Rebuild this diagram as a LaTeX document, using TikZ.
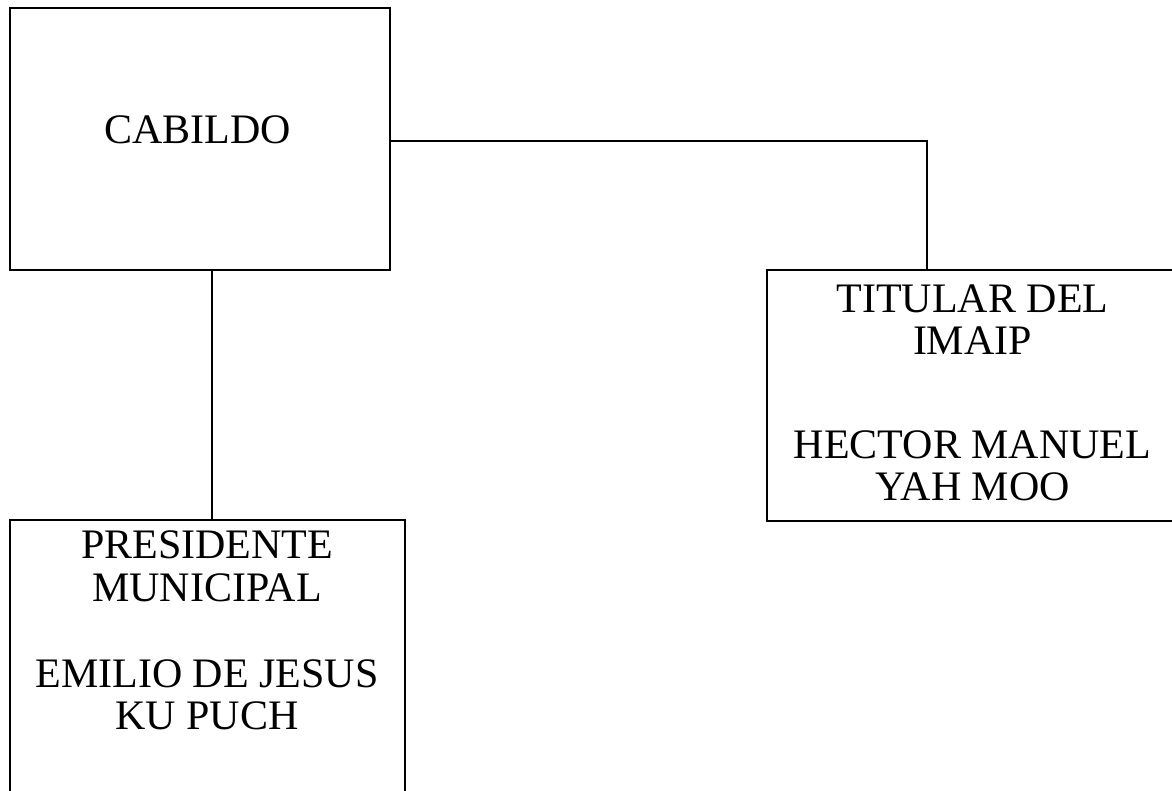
\documentclass[tikz,border=0pt]{standalone}
\usepackage{fontspec}
\setmainfont{Liberation Serif}
\usepackage{tikz}
\usetikzlibrary{positioning}

\tikzset{
  box/.style={draw, line width=1.3pt, rectangle, inner sep=0pt},
  txt/.style={anchor=base, inner sep=0pt, font=\fontsize{42}{42}\selectfont},
  link/.style={line width=1.1pt}
}

\begin{document}
\begin{tikzpicture}[x=1pt,y=-1pt]
          \useasboundingbox (0,0) rectangle (1172,791);
          % cajas
          \node[box, minimum width=380pt, minimum height=262pt] (cabildo) at (200,139) {};
          \node[box, minimum width=413pt, minimum height=251pt] (titular) at (973.5,395.5) {};
          \node[box, minimum width=395pt, minimum height=280pt] (presidente) at (207.5,660) {};
          % textos
          \node[txt] (cab) at (197.5,144) {CABILDO};
          \node[txt] (tit1) at (972.5,313) {TITULAR DEL};
          \node[txt] (tit2) at (972.5,355) {IMAIP};
          \node[txt] (tit3) at (972.5,458) {HECTOR MANUEL};
          \node[txt] (tit4) at (972.5,500) {YAH MOO};
          \node[txt] (pre1) at (207,558) {PRESIDENTE};
          \node[txt] (pre2) at (207,601) {MUNICIPAL};
          \node[txt] (pre3) at (207,687) {EMILIO DE JESUS};
          \node[txt] (pre4) at (207,729) {KU PUCH};
          % lineas
          \draw[link] ([yshift=-2]cabildo.east) -| ([xshift=-46.5]titular.north);
          \draw[link] ([xshift=12]cabildo.south) -- ([xshift=4.5]presidente.north);
        \end{tikzpicture}
\end{document}
